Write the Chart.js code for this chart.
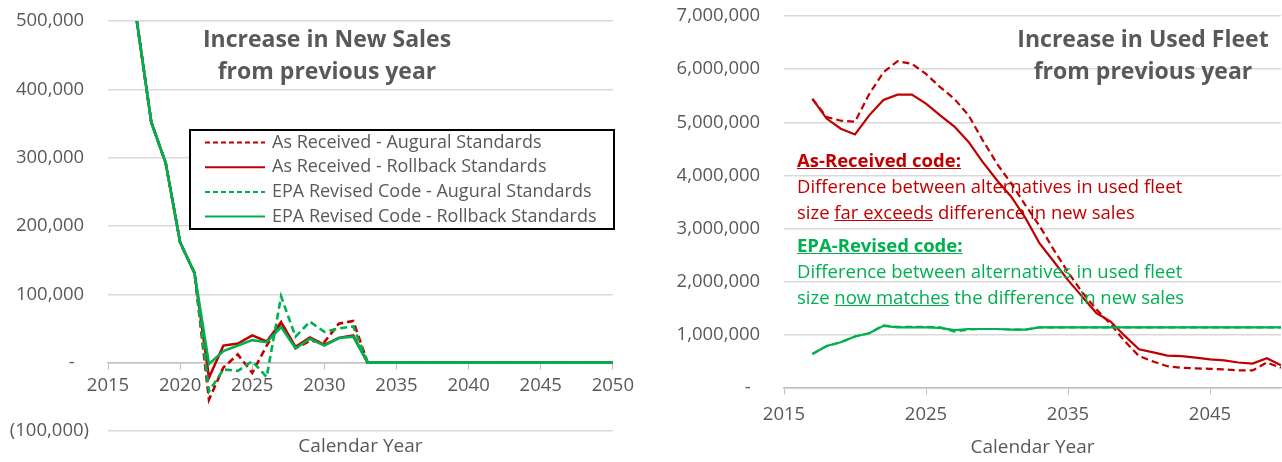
<!DOCTYPE html>
<html lang="en">
<head>
  <meta charset="UTF-8" />
  <title>Increase in New Sales and Used Fleet</title>
  <script src="https://cdn.jsdelivr.net/npm/chart.js"></script>
  <style>
    body { margin: 0; background: #fff; font-family: "Open Sans", sans-serif; }
    .wrap { position: relative; width: 1282px; height: 462px; overflow: hidden; }
    .box { position: absolute; top: 0; height: 462px; }
    #leftBox { left: 0; width: 640px; }
    #rightBox { left: 640px; width: 642px; }
    .title { position: absolute; color: #595959; font-weight: bold; font-size: 23px; line-height: 32px; text-align: center; white-space: nowrap; }
    .note { position: absolute; left: 797px; font-size: 18.5px; line-height: 26px; white-space: nowrap; }
    .note b { text-decoration: underline; }
    .red { color: #c00000; }
    .green { color: #00b050; }
  </style>
</head>
<body>
  <div class="wrap">
    <div class="box" id="leftBox"><canvas id="newSalesChart"></canvas></div>
    <div class="box" id="rightBox"><canvas id="usedFleetChart"></canvas></div>

    <div class="title" style="left:177px; top:22px; width:300px;">Increase in New Sales<br>from previous year</div>
    <div class="title" style="left:993px; top:22px; width:300px;">Increase in Used Fleet<br>from previous year</div>

    <div class="note red" style="top:147px;">
      <b>As-Received code:</b><br>
      Difference between alternatives in used fleet<br>
      size <u>far exceeds</u> difference in new sales
    </div>
    <div class="note green" style="top:232px;">
      <b>EPA-Revised code:</b><br>
      Difference between alternatives in used fleet<br>
      size <u>now matches</u> the difference in new sales
    </div>
  </div>

  <script>
    const years = [2017, 2018, 2019, 2020, 2021, 2022, 2023, 2024, 2025, 2026, 2027, 2028, 2029, 2030, 2031, 2032, 2033,
                   2034, 2035, 2036, 2037, 2038, 2039, 2040, 2041, 2042, 2043, 2044, 2045, 2046, 2047, 2048, 2049, 2050];

    const seriesNames = [
      'As Received - Augural Standards',
      'As Received - Rollback Standards',
      'EPA Revised Code - Augural Standards',
      'EPA Revised Code - Rollback Standards'
    ];

    // increase in new sales from previous year
    const newRecvAugural   = [500000, 352000, 292000, 176000, 131000, -54000, -7000, 12000, -15000, 25000, 59000, 21000, 32000, 30000, 57000, 61000, 0,
                              0, 0, 0, 0, 0, 0, 0, 0, 0, 0, 0, 0, 0, 0, 0, 0, 0];
    const newRecvRollback  = [500000, 352000, 292000, 176000, 131000, -22000, 25000, 28000, 40000, 31000, 59000, 23000, 37000, 26000, 36000, 40000, 0,
                              0, 0, 0, 0, 0, 0, 0, 0, 0, 0, 0, 0, 0, 0, 0, 0, 0];
    const newEpaAugural    = [500000, 352000, 292000, 176000, 131000, -42000, -10000, -12000, 2000, -21000, 97000, 38000, 60000, 45000, 50000, 53000, 0,
                              0, 0, 0, 0, 0, 0, 0, 0, 0, 0, 0, 0, 0, 0, 0, 0, 0];
    const newEpaRollback   = [500000, 352000, 292000, 176000, 131000, -2000, 17000, 25000, 33000, 30000, 52000, 21000, 35000, 25000, 36000, 38000, 0,
                              0, 0, 0, 0, 0, 0, 0, 0, 0, 0, 0, 0, 0, 0, 0, 0, 0];

    // increase in used fleet from previous year
    const usedRecvAugural  = [5440000, 5100000, 5030000, 5010000, 5530000, 5940000, 6150000, 6100000, 5910000, 5660000, 5440000, 5130000, 4660000, 4220000, 3850000, 3440000, 3050000,
                              2600000, 2180000, 1800000, 1480000, 1200000, 880000, 600000, 500000, 410000, 380000, 370000, 360000, 350000, 330000, 330000, 480000, 380000];
    const usedRecvRollback = [5440000, 5070000, 4880000, 4770000, 5130000, 5420000, 5520000, 5520000, 5350000, 5130000, 4920000, 4630000, 4250000, 3910000, 3600000, 3200000, 2720000,
                              2380000, 2030000, 1720000, 1410000, 1250000, 980000, 730000, 670000, 610000, 600000, 570000, 540000, 520000, 480000, 460000, 560000, 430000];
    const usedEpaAugural   = [640000, 790000, 860000, 970000, 1030000, 1180000, 1150000, 1150000, 1150000, 1140000, 1060000, 1100000, 1110000, 1110000, 1100000, 1100000, 1140000,
                              1140000, 1140000, 1140000, 1140000, 1140000, 1140000, 1140000, 1140000, 1140000, 1140000, 1140000, 1140000, 1140000, 1140000, 1140000, 1140000, 1140000];
    const usedEpaRollback  = [640000, 790000, 860000, 970000, 1030000, 1170000, 1140000, 1140000, 1140000, 1130000, 1090000, 1110000, 1110000, 1110000, 1100000, 1100000, 1140000,
                              1140000, 1140000, 1140000, 1140000, 1140000, 1140000, 1140000, 1140000, 1140000, 1140000, 1140000, 1140000, 1140000, 1140000, 1140000, 1140000, 1140000];

    const xTicksLeft = [2015, 2020, 2025, 2030, 2035, 2040, 2045, 2050];
    const xTicksRight = [2015, 2025, 2035, 2045];

    const RED = '#c00000';
    const GREEN = '#00b050';
    const GREY = '#595959';

    Chart.defaults.font.family = '"Open Sans", sans-serif';
    Chart.defaults.font.size = 18.5;
    Chart.defaults.color = GREY;

    // Excel style accounting labels: "-" for zero, brackets for negatives
    function acct(v) {
      if (v === 0) return '-   ';
      const s = Math.abs(v).toLocaleString('en-US');
      return v < 0 ? '(' + s + ')' : s + ' ';
    }

    function makeSets(a, b, c, d, width) {
      const vals = [a, b, c, d];
      const colors = [RED, RED, GREEN, GREEN];
      return vals.map((v, i) => ({
        label: seriesNames[i],
        data: years.map((y, j) => ({ x: y, y: v[j] })),
        borderColor: colors[i],
        borderWidth: width,
        borderDash: i % 2 === 0 ? [7, 4] : [],
        pointRadius: 0,
        tension: 0,
        order: 4 - i
      }));
    }

    // legend drawn as a boxed panel inside the plot, like the original
    const boxLegend = {
      id: 'boxLegend',
      afterDraw(chart, args, opts) {
        if (!opts.show) return;
        const ctx = chart.ctx;
        ctx.save();
        ctx.fillStyle = '#fff';
        ctx.fillRect(opts.x, opts.y, opts.w, opts.h);
        ctx.strokeStyle = '#000';
        ctx.lineWidth = 2;
        ctx.strokeRect(opts.x, opts.y, opts.w, opts.h);
        ctx.font = '18px "Open Sans", sans-serif';
        ctx.textBaseline = 'middle';
        chart.data.datasets.forEach((ds, row) => {
          const y = opts.y + 12.5 + row * 24.7;
          ctx.strokeStyle = ds.borderColor;
          ctx.lineWidth = 2;
          ctx.setLineDash(ds.borderDash.length ? [5, 3] : []);
          ctx.beginPath();
          ctx.moveTo(opts.x + 15, y);
          ctx.lineTo(opts.x + 75, y);
          ctx.stroke();
          ctx.setLineDash([]);
          ctx.fillStyle = GREY;
          ctx.fillText(ds.label, opts.x + 82, y);
        });
        ctx.restore();
      }
    };

    function makeChart(id, sets, cfg) {
      return new Chart(document.getElementById(id), {
        type: 'line',
        data: { datasets: sets },
        plugins: [boxLegend],
        options: {
          responsive: true,
          maintainAspectRatio: false,
          animation: false,
          layout: { padding: cfg.padding },
          plugins: {
            legend: { display: false },
            tooltip: { enabled: false },
            boxLegend: cfg.legend
          },
          scales: {
            x: {
              type: 'linear',
              position: { y: 0 },
              min: 2015,
              max: 2050,
              afterBuildTicks: s => { s.ticks = cfg.xTicks.map(v => ({ value: v })); },
              ticks: { padding: cfg.xPad, callback: v => String(v), maxRotation: 0 },
              grid: { drawOnChartArea: false, drawTicks: true, tickLength: 6, color: '#bfbfbf' },
              border: { display: true, color: '#bfbfbf', width: 1.5 },
              title: { display: true, text: 'Calendar Year', color: GREY, font: { size: 19 }, padding: { top: cfg.titlePad, bottom: 0 } }
            },
            y: {
              min: cfg.yMin,
              max: cfg.yMax,
              afterFit: s => { s.width = cfg.yWidth; s.paddingTop = 0; s.paddingBottom = 0; },
              ticks: { stepSize: cfg.yStep, padding: 19, callback: v => acct(v) },
              grid: { drawTicks: false, color: '#d9d9d9', lineWidth: 1.5 },
              border: { display: false }
            }
          }
        }
      });
    }

    makeChart('newSalesChart',
      makeSets(newRecvAugural, newRecvRollback, newEpaAugural, newEpaRollback, 2.6), {
        padding: { left: 0, right: 24, top: 21, bottom: 31 },
        xTicks: xTicksLeft, xPad: 6, titlePad: 32,
        yMin: -100000, yMax: 500000, yStep: 100000, yWidth: 108,
        legend: { show: true, x: 190, y: 130, w: 424, h: 99 }
      });

    makeChart('usedFleetChart',
      makeSets(usedRecvAugural, usedRecvRollback, usedEpaAugural, usedEpaRollback, 2.2), {
        padding: { left: 0, right: 1, top: 16, bottom: 74 },
        xTicks: xTicksRight, xPad: 10, titlePad: 0,
        yMin: 0, yMax: 7000000, yStep: 1000000, yWidth: 144,
        legend: { show: false }
      });
  </script>
</body>
</html>
